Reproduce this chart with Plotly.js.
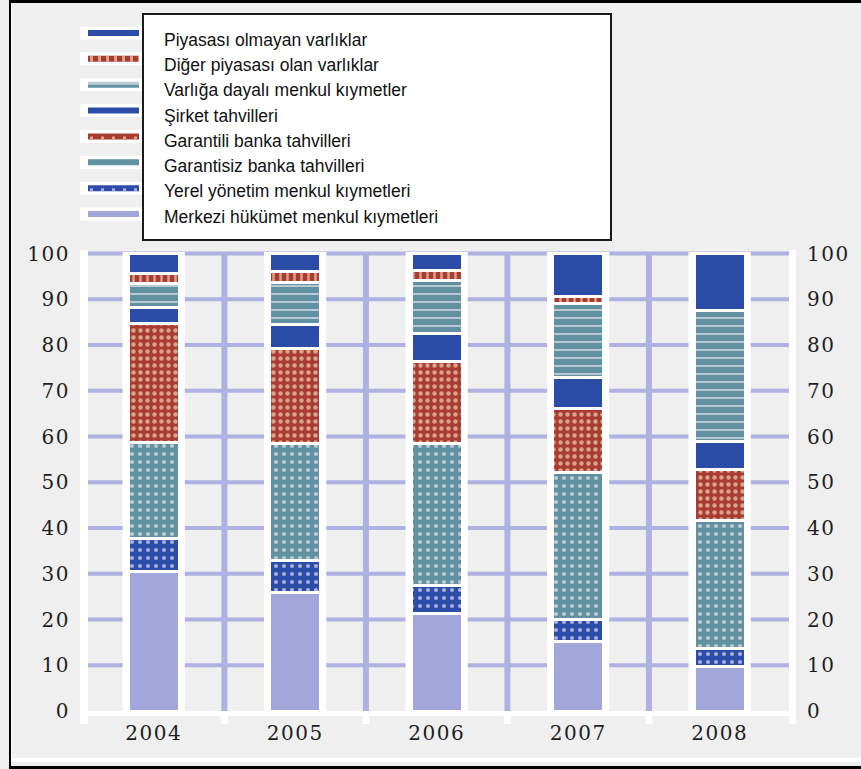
<!DOCTYPE html>
<html>
<head>
<meta charset="utf-8">
<script src="https://cdn.plot.ly/plotly-3.0.1.min.js"></script>
<style>
  html, body { margin: 0; padding: 0; background: #efefef; }
  #chart { width: 861px; height: 769px; }
  g.xtick text, g.ytick text, g.y2tick text { letter-spacing: 1.5px; }
</style>
</head>
<body>
<div id="chart"></div>
<script>
// Portfolio composition by year, percent of total (stacked bottom to top)
const years = ['2004', '2005', '2006', '2007', '2008'];

const merkeziHukumet   = [30.6, 25.8, 21.3, 15.3, 9.7];
const yerelYonetim     = [7.1, 7.2, 6.2, 4.6, 4.0];
const garantisizBanka  = [20.9, 25.4, 30.9, 32.2, 27.9];
const garantiliBanka   = [26.1, 20.9, 18.1, 14.1, 11.1];
const sirketTahvilleri = [3.4, 5.1, 6.1, 6.8, 6.2];
const varligaDayali    = [5.3, 9.3, 11.4, 16.0, 28.6];
const digerPiyasasi    = [2.3, 2.3, 2.2, 1.6, 0.0];
const piyasasiOlmayan  = [4.3, 4.0, 3.8, 9.4, 12.5];

const seriesLabels = [
  'Merkezi hükümet menkul kıymetleri',
  'Yerel yönetim menkul kıymetleri',
  'Garantisiz banka tahvilleri',
  'Garantili banka tahvilleri',
  'Şirket tahvilleri',
  'Varlığa dayalı menkul kıymetler',
  'Diğer piyasası olan varlıklar',
  'Piyasası olmayan varlıklar'
];
const seriesValues = [merkeziHukumet, yerelYonetim, garantisizBanka, garantiliBanka,
                      sirketTahvilleri, varligaDayali, digerPiyasasi, piyasasiOlmayan];
const yTicks = [0, 10, 20, 30, 40, 50, 60, 70, 80, 90, 100];

// Colours
const BLUE = '#2b4da8', RED = '#a83c31', TEAL = '#6191a1', LAV = '#a3a6da';
const PINK = '#dba28e', PALE = '#b9cad2', LAVDOT = '#a9aee2';
const GRID = '#aeb1e1', BG = '#efefef';

// Fill style per series (same order as seriesLabels)
const styles = [
  { color: LAV,  pattern: null,                                   key: 'solid' },
  { color: BLUE, pattern: { shape: '.', fg: LAVDOT, size: 8, sol: 0.22 }, key: 'dots', accent: LAVDOT },
  { color: TEAL, pattern: { shape: '.', fg: PALE,   size: 8, sol: 0.22 }, key: 'solid' },
  { color: RED,  pattern: { shape: '.', fg: PINK,   size: 7, sol: 0.32 }, key: 'dots', accent: PINK },
  { color: BLUE, pattern: null,                                   key: 'solid' },
  { color: TEAL, pattern: { shape: '-', fg: PALE,   size: 8, sol: 0.25 }, key: 'split', accent: PALE },
  { color: RED,  pattern: { shape: '|', fg: PINK,   size: 7, sol: 0.35 }, key: 'dash', accent: PINK },
  { color: BLUE, pattern: null,                                   key: 'solid' }
];

const traces = seriesValues.map((vals, i) => {
  const s = styles[i];
  const marker = { color: s.color, line: { color: '#ffffff', width: 3 } };
  if (s.pattern) {
    marker.pattern = { shape: s.pattern.shape, fgcolor: s.pattern.fg, bgcolor: s.color,
                       size: s.pattern.size, solidity: s.pattern.sol, fillmode: 'replace' };
  }
  return { type: 'bar', name: seriesLabels[i], x: years, y: vals, width: 0.36,
           marker: marker, showlegend: false, hoverinfo: 'skip' };
});

// Pixel helpers for decorations placed around the plot area
const L = 88, R = 789, T = 250, B = 711, W = 861, H = 769;
const px = x => (x - L) / (R - L);
const py = y => (B - y) / (B - T);

const shapes = [];
const rect = (x0, y0, x1, y1, fill, layer) => shapes.push({
  type: 'rect', xref: 'paper', yref: 'paper', x0: px(x0), x1: px(x1), y0: py(y1), y1: py(y0),
  fillcolor: fill, line: { width: 0 }, layer: layer || 'above'
});

// Horizontal grid lines (none at zero)
yTicks.filter(v => v > 0).forEach(v => shapes.push({
  type: 'line', xref: 'paper', yref: 'y', x0: 0, x1: 1, y0: v, y1: v,
  line: { color: GRID, width: 4 }, layer: 'below'
}));
// Vertical grid lines between the year columns
for (let k = 0; k < years.length - 1; k++) {
  shapes.push({ type: 'line', xref: 'x', yref: 'y', x0: k + 0.5, x1: k + 0.5, y0: -1, y1: 100.3,
                line: { color: GRID, width: 6 }, layer: 'below' });
  shapes.push({ type: 'line', xref: 'x', yref: 'paper', x0: k + 0.5, x1: k + 0.5, y0: py(716), y1: py(724),
                line: { color: '#ffffff', width: 7 }, layer: 'above' });
}
// White column behind each bar
years.forEach((yr, k) => shapes.push({
  type: 'rect', xref: 'x', yref: 'y', x0: k - 0.22, x1: k + 0.22, y0: 0, y1: 100.35,
  fillcolor: '#ffffff', line: { width: 0 }, layer: 'between'
}));
// White margins framing the plot
rect(80, T, L, 724, '#ffffff');
rect(R, T, 796, 724, '#ffffff');
rect(80, B, 796, 716, '#ffffff');

// Outer frame
rect(9, 0, W, 3, '#000000');
rect(9, 0, 11, H, '#000000');
rect(9, 766, W, H, '#000000');
rect(11, 758, W, 762, '#ffffff');
rect(11, 3, 12, 758, '#ffffff');

// Legend box
shapes.push({ type: 'rect', xref: 'paper', yref: 'paper', x0: px(143), x1: px(611), y0: py(240), y1: py(14),
              fillcolor: '#ffffff', line: { color: '#1a1a1a', width: 2 }, layer: 'above' });

const annotations = [];
// Legend rows, top row is the top of the stack
const legendOrder = styles.map((s, i) => i).reverse();
legendOrder.forEach((i, row) => {
  const s = styles[i];
  const cy = 33 + 25.86 * row;     // swatch centre
  const ty = 40 + 25.24 * row;     // text centre
  rect(80, cy - 6.5, 142, cy + 6.5, '#ffffff');
  if (s.key === 'split') {
    rect(88, cy - 3, 139, cy, s.accent);
    rect(88, cy, 139, cy + 3, s.color);
  } else {
    rect(88, cy - 3, 139, cy + 3, s.color);
    if (s.key === 'dash' || s.key === 'dots') {
      const yy = s.key === 'dash' ? cy : cy + 1.5;
      shapes.push({ type: 'line', xref: 'paper', yref: 'paper', x0: px(90), x1: px(139), y0: py(yy), y1: py(yy),
                    line: { color: s.accent, width: s.key === 'dash' ? 6 : 3, dash: s.key === 'dash' ? '3px,5px' : '3px,8px' },
                    layer: 'above' });
    }
  }
  annotations.push({ xref: 'paper', yref: 'paper', x: px(162), y: py(ty), xanchor: 'left', yanchor: 'middle',
                     text: seriesLabels[i], showarrow: false,
                     font: { family: 'Liberation Sans, Arial, sans-serif', size: 17.5, color: '#111111' } });
});

const tickFont = { family: 'DejaVu Serif, serif', size: 20, color: '#1e1e1e' };
const layout = {
  width: W, height: H,
  margin: { l: L, r: W - R, t: T, b: H - B, pad: 0 },
  paper_bgcolor: BG, plot_bgcolor: BG,
  barmode: 'stack', bargap: 0.64,
  showlegend: false,
  xaxis: { type: 'category', range: [-0.464, 4.49], showgrid: false, zeroline: false, showline: false,
           ticks: 'outside', ticklen: 4, tickcolor: 'rgba(0,0,0,0)', tickfont: tickFont, fixedrange: true },
  yaxis: { range: [0, 100.77], tickvals: yTicks, ticktext: yTicks.map(String), showgrid: false, zeroline: false,
           showline: false, ticks: 'outside', ticklen: 13, tickcolor: 'rgba(0,0,0,0)', tickfont: tickFont, fixedrange: true },
  yaxis2: { overlaying: 'y', side: 'right', range: [0, 100.77], tickvals: yTicks, ticktext: yTicks.map(String),
            showgrid: false, zeroline: false, showline: false, ticks: 'outside', ticklen: 13,
            tickcolor: 'rgba(0,0,0,0)', tickfont: tickFont, fixedrange: true },
  shapes: shapes,
  annotations: annotations
};

// Invisible trace so the right-hand axis is drawn
traces.push({ type: 'scatter', x: years, y: merkeziHukumet, yaxis: 'y2', mode: 'markers',
              marker: { opacity: 0 }, showlegend: false, hoverinfo: 'skip' });

Plotly.newPlot('chart', traces, layout, { staticPlot: true });
</script>
</body>
</html>
